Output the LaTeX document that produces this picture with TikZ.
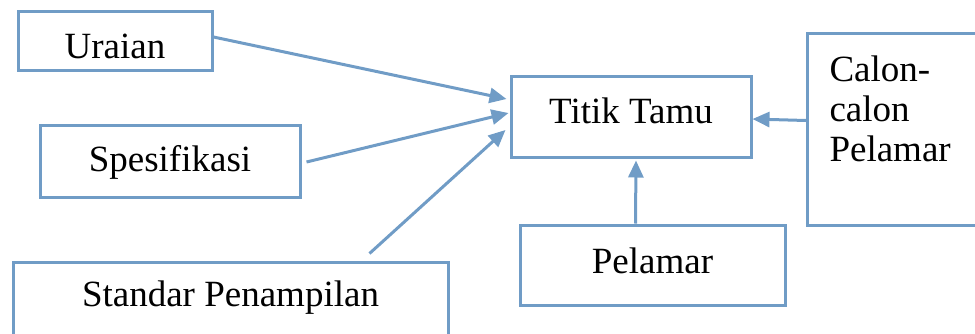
\documentclass[tikz,border=0pt]{standalone}
\usepackage{fontspec}
\setmainfont{Liberation Serif}
\usepackage{xcolor}
\usetikzlibrary{arrows.meta, calc}
\definecolor{linkblue}{RGB}{112,156,198}
\tikzset{
    box/.style={draw=linkblue, line width=1.5pt, inner sep=0pt, font=\fontsize{18.5}{20}\selectfont},
    tbox/.style={box, text height=#1, text depth=6pt},
    tbox/.default=13pt,
    link/.style={draw=linkblue, line width=1.5pt, -{Triangle[length=8.5pt, width=7.5pt]}}
}

\begin{document}
\begin{tikzpicture}[x=0.5pt, y=-0.5pt]
    \useasboundingbox (0,0) rectangle (975,333);
    % Input boxes on the left
    \node[tbox=23.3pt, minimum width=97pt, minimum height=29pt] (uraian) at (115,41) {Uraian};
    \node[tbox=16.3pt, minimum width=130pt, minimum height=36pt] (spes) at (170,161) {Spesifikasi};
    \node[tbox=12pt, minimum width=217.5pt, minimum height=38pt] (standar) at (230.5,300) {Standar Penampilan};
    % Centre box
    \node[tbox=12.8pt, minimum width=120pt, minimum height=40.5pt] (titik) at (631,116.5) {Titik Tamu};
    % Right and bottom boxes
    \node[box, anchor=north west, text width=70pt, align=left, inner xsep=11pt,
          minimum height=96pt] (calon) at (806,32) {Calon-\\calon\\Pelamar\\[0.5pt]\mbox{}};
    \node[tbox=14.3pt, minimum width=132.5pt, minimum height=40pt] (pelamar) at (652.5,265) {Pelamar};

    % Arrows into Titik Tamu
    \draw[link] ($(uraian.east)+(0,-4)$) -- ($(titik.west)+(-3,-17.5)$);
    \draw[link] ($(spes.east)+(5,1)$) -- ($(titik.west)+(-1,-3.5)$);
    \draw[link] ($(standar.north east)+(-80,-7)$) -- ($(titik.west)+(-4,13.5)$);
    \draw[link] ($(calon.west)+(0,-9)$) -- ($(titik.east)+(0,2.5)$);
    \draw[link] ($(pelamar.north)+(-17,0)$) -- ($(titik.south)+(5,2)$);
\end{tikzpicture}
\end{document}
